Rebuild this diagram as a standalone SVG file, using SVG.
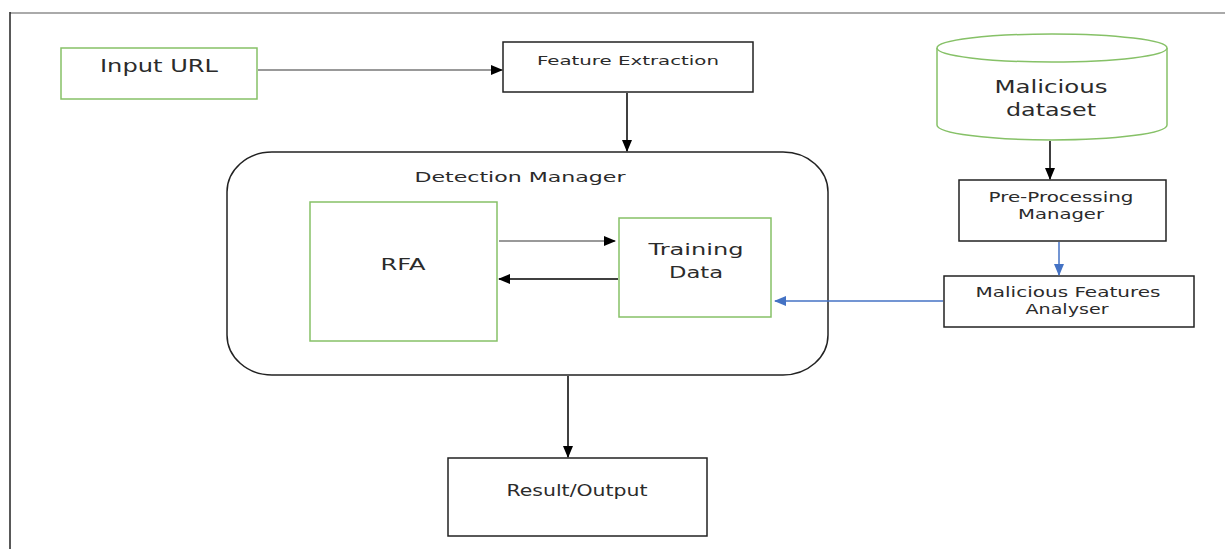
<svg xmlns="http://www.w3.org/2000/svg" width="1225" height="549" viewBox="0 0 1225 549">
<defs>
<marker id="ah" markerWidth="12" markerHeight="10" refX="11" refY="5" orient="auto" markerUnits="userSpaceOnUse">
<path d="M0,0 L12,5 L0,10 Z" fill="#000"/>
</marker>
<marker id="ahb" markerWidth="12" markerHeight="10" refX="11" refY="5" orient="auto" markerUnits="userSpaceOnUse">
<path d="M0,0 L12,5 L0,10 Z" fill="#4472c4"/>
</marker>
<style>
.g{fill:#fff;stroke:#86c167;stroke-width:1.5}
.b{fill:#fff;stroke:#222;stroke-width:1.5}
.t{font-family:"DejaVu Sans",sans-serif;fill:#2b2b2b;text-anchor:middle}
.c{stroke:#000;stroke-width:1.5;fill:none;marker-end:url(#ah)}
.cg{stroke:#777;stroke-width:1.5;fill:none;marker-end:url(#ah)}
.cb{stroke:#4472c4;stroke-width:1.5;fill:none;marker-end:url(#ahb)}
</style>
</defs>
<rect width="1225" height="549" fill="#fff"/>
<g id="frame">
<line x1="10" y1="13" x2="1225" y2="13" stroke="#aaa" stroke-width="2"/>
<line x1="10" y1="12" x2="10" y2="549" stroke="#222" stroke-width="1.5"/>
</g>
<g id="input-url">
<rect class="g" x="61" y="48" width="196" height="51"/>
<text class="t" x="159" y="72" font-size="17" textLength="118" lengthAdjust="spacingAndGlyphs">Input URL</text>
</g>
<g id="feature-extraction">
<rect class="b" x="503" y="42" width="250" height="50"/>
<text class="t" x="628" y="65" font-size="11.5" textLength="182" lengthAdjust="spacingAndGlyphs">Feature Extraction</text>
</g>
<g id="detection-manager">
<rect x="227" y="152" width="601" height="223" rx="45" ry="40" fill="#fff" stroke="#222" stroke-width="1.5"/>
<text class="t" x="520" y="182" font-size="14" textLength="211" lengthAdjust="spacingAndGlyphs">Detection Manager</text>
</g>
<g id="rfa">
<rect class="g" x="310" y="202" width="187" height="139"/>
<text class="t" x="403" y="270" font-size="16" textLength="45" lengthAdjust="spacingAndGlyphs">RFA</text>
</g>
<g id="training-data">
<rect class="g" x="619" y="218" width="152" height="99"/>
<text class="t" x="696" y="255" font-size="16" textLength="95" lengthAdjust="spacingAndGlyphs">Training</text>
<text class="t" x="696" y="278" font-size="16" textLength="54" lengthAdjust="spacingAndGlyphs">Data</text>
</g>
<g id="malicious-dataset">
<path d="M937,48 L937,125 A115,15 0 0 0 1167,125 L1167,48" fill="#fff" stroke="#86c167" stroke-width="1.5"/>
<ellipse cx="1052" cy="48" rx="115" ry="14" fill="#fff" stroke="#86c167" stroke-width="1.5"/>
<text class="t" x="1051" y="93" font-size="18" textLength="113" lengthAdjust="spacingAndGlyphs">Malicious</text>
<text class="t" x="1051" y="116" font-size="18" textLength="90" lengthAdjust="spacingAndGlyphs">dataset</text>
</g>
<g id="pre-processing-manager">
<rect class="b" x="959" y="180" width="207" height="61"/>
<text class="t" x="1061" y="202" font-size="14" textLength="145" lengthAdjust="spacingAndGlyphs">Pre-Processing</text>
<text class="t" x="1061" y="219" font-size="14" textLength="86" lengthAdjust="spacingAndGlyphs">Manager</text>
</g>
<g id="malicious-features-analyser">
<rect class="b" x="944" y="276" width="250" height="51"/>
<text class="t" x="1068" y="297" font-size="14" textLength="185" lengthAdjust="spacingAndGlyphs">Malicious Features</text>
<text class="t" x="1067" y="314" font-size="14" textLength="83" lengthAdjust="spacingAndGlyphs">Analyser</text>
</g>
<g id="result-output">
<rect class="b" x="448" y="458" width="259" height="78"/>
<text class="t" x="577" y="496" font-size="15" textLength="141" lengthAdjust="spacingAndGlyphs">Result/Output</text>
</g>
<g id="connectors">
<line class="cg" x1="258" y1="70" x2="502" y2="70"/>
<line class="c" x1="627" y1="93" x2="627" y2="151"/>
<line class="cg" x1="499" y1="241" x2="615" y2="241"/>
<line class="c" x1="618" y1="279" x2="499" y2="279"/>
<line class="cb" x1="943" y1="301" x2="775" y2="301"/>
<line class="c" x1="1050" y1="141" x2="1050" y2="179"/>
<line class="cb" x1="1059" y1="242" x2="1059" y2="275"/>
<line class="c" x1="568" y1="376" x2="568" y2="457"/>
</g>
</svg>
